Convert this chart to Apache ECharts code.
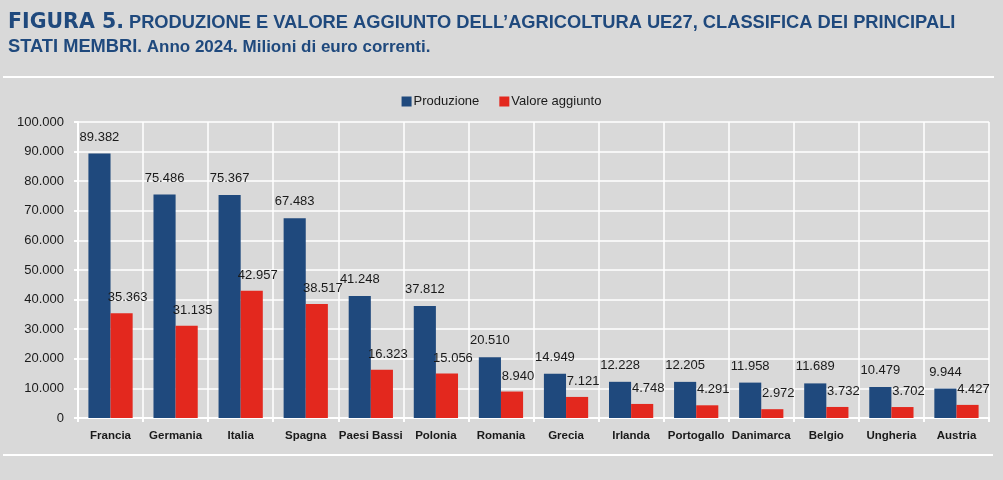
<!DOCTYPE html>
<html>
<head>
<meta charset="utf-8">
<script src="https://cdn.jsdelivr.net/npm/echarts@6/dist/echarts.min.js"></script>
<style>
  html, body { margin: 0; padding: 0; background: #d9d9d9; }
  #main { width: 1003px; height: 480px; }
</style>
</head>
<body>
<div id="main"></div>
<script>
var categories = ['Francia', 'Germania', 'Italia', 'Spagna', 'Paesi Bassi', 'Polonia', 'Romania',
  'Grecia', 'Irlanda', 'Portogallo', 'Danimarca', 'Belgio', 'Ungheria', 'Austria'];
var produzione = [89382, 75486, 75367, 67483, 41248, 37812, 20510, 14949, 12228, 12205, 11958, 11689, 10479, 9944];
var valoreAggiunto = [35363, 31135, 42957, 38517, 16323, 15056, 8940, 7121, 4748, 4291, 2972, 3732, 3702, 4427];
var yTicks = { min: 0, max: 100000, interval: 10000 };

var sans = "'Liberation Sans', Arial, sans-serif";

// numeri all'italiana: 89.382
function fmt(v) {
  return String(v).replace(/\B(?=(\d{3})+(?!\d))/g, '.');
}

var myChart = echarts.init(document.getElementById('main'));
myChart.setOption({
  backgroundColor: '#d9d9d9',
  animation: false,
  title: {
    left: 3,
    top: 6,
    text: '{a|FIGURA 5.} {b|PRODUZIONE E VALORE AGGIUNTO DELL\u2019AGRICOLTURA UE27, CLASSIFICA DEI PRINCIPALI}\n' +
          '{b|STATI MEMBRI}{c|. Anno 2024}{b|.}{c| Milioni di euro correnti.}',
    textStyle: {
      rich: {
        a: { fontFamily: "'DejaVu Sans', sans-serif", fontWeight: 'bold', fontSize: 20.5, color: '#1f497d', lineHeight: 24 },
        b: { fontFamily: sans, fontWeight: 'bold', fontSize: 18.3, color: '#1f497d', lineHeight: 24 },
        c: { fontFamily: sans, fontSize: 17, color: '#1f497d', lineHeight: 24 }
      }
    }
  },
  graphic: [
    { type: 'line', shape: { x1: 3, y1: 77, x2: 994, y2: 77 }, style: { stroke: '#ffffff', lineWidth: 2 } },
    { type: 'line', shape: { x1: 3, y1: 455, x2: 993, y2: 455 }, style: { stroke: '#ffffff', lineWidth: 2 } }
  ],
  legend: {
    top: 90,
    left: 'center',
    itemWidth: 10,
    itemHeight: 10,
    itemGap: 20,
    icon: 'rect',
    textStyle: { fontFamily: sans, fontSize: 13, color: '#1a1a1a', padding: [0, 0, 0, -3] },
    data: ['Produzione', 'Valore aggiunto']
  },
  grid: { left: 78, right: 14, top: 122, bottom: 62 },
  xAxis: {
    type: 'category',
    data: categories,
    axisLine: { show: true, lineStyle: { color: '#ffffff', width: 2 } },
    axisTick: { show: true, length: 4, lineStyle: { color: '#ffffff', width: 2 } },
    splitLine: { show: true, lineStyle: { color: '#ffffff', width: 1.5 } },
    axisLabel: { fontFamily: sans, fontWeight: 'bold', fontSize: 11.5, color: '#1a1a1a', margin: 12, interval: 0 }
  },
  yAxis: {
    type: 'value',
    min: yTicks.min,
    max: yTicks.max,
    interval: yTicks.interval,
    axisLine: { show: true, lineStyle: { color: '#ffffff', width: 2 } },
    axisTick: { show: true, length: 4, lineStyle: { color: '#ffffff', width: 2 } },
    splitLine: { show: true, lineStyle: { color: '#ffffff', width: 1.5 } },
    axisLabel: { fontFamily: sans, fontSize: 13, color: '#1a1a1a', margin: 14, formatter: fmt }
  },
  series: [{
    name: 'Produzione',
    type: 'bar',
    data: produzione,
    barGap: '0%',
    barCategoryGap: '32%',
    itemStyle: { color: '#1f497d' },
    label: { show: true, position: 'top', distance: 10, fontFamily: sans, fontSize: 13, color: '#1a1a1a',
      formatter: function (p) { return fmt(p.value); } }
  }, {
    name: 'Valore aggiunto',
    type: 'bar',
    data: valoreAggiunto,
    itemStyle: { color: '#e3281e' },
    label: { show: true, position: 'top', distance: 9, offset: [6, 0], fontFamily: sans, fontSize: 13, color: '#1a1a1a',
      formatter: function (p) { return fmt(p.value); } }
  }]
});
</script>
</body>
</html>
